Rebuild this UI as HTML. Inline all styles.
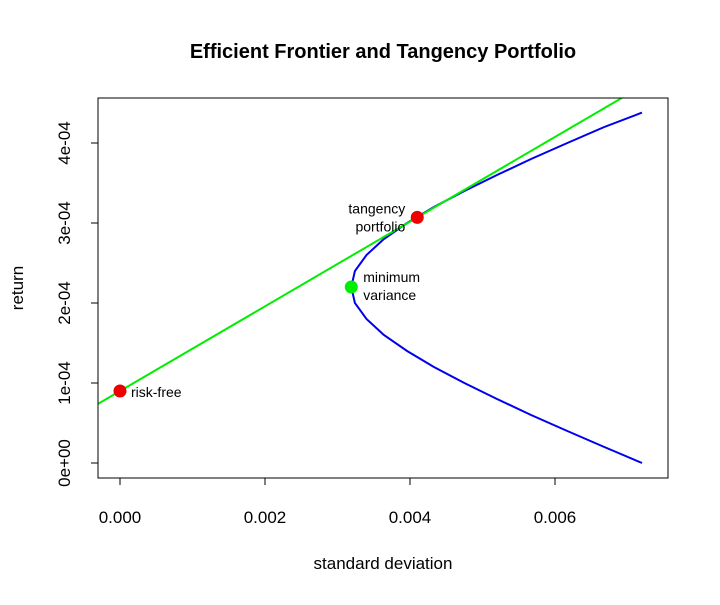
<!DOCTYPE html>
<html><head><meta charset="utf-8"><style>
body{margin:0;background:#fff}
svg text{font-family:"Liberation Sans",Arial,sans-serif}
</style></head><body>
<svg id="chart" width="720" height="600" xmlns="http://www.w3.org/2000/svg">
<rect width="720" height="600" fill="#fff"/>
<text x="383" y="58" font-size="20" font-weight="bold" text-anchor="middle">Efficient Frontier and Tangency Portfolio</text>
<text x="383" y="569" font-size="17" text-anchor="middle">standard deviation</text>
<text x="0" y="0" font-size="17" text-anchor="middle" transform="translate(23,288) rotate(-90)">return</text>
<defs><clipPath id="plotclip"><rect x="98" y="98" width="570" height="380"/></clipPath></defs>
<g id="axes"></g>
<g id="marks" clip-path="url(#plotclip)"></g>
<g id="points"></g>
<rect x="98" y="98" width="570" height="380" fill="none" stroke="#000" stroke-width="1"/>
</svg>
<script>
const xTicks=[0,0.002,0.004,0.006];
const xTickLabels=["0.000","0.002","0.004","0.006"];
const yTicks=[0,1e-4,2e-4,3e-4,4e-4];
const yTickLabels=["0e+00","1e-04","2e-04","3e-04","4e-04"];
const frontierSd=[0.0072,0.00668,0.00617,0.00567,0.0052,0.00475,0.00433,0.00396,0.00364,0.0034,0.00324,0.00319,0.00324,0.0034,0.00364,0.00396,0.00433,0.00475,0.0052,0.00567,0.00617,0.00668,0.0072];
const frontierRet=[0,0.2e-4,0.4e-4,0.6e-4,0.8e-4,1.0e-4,1.2e-4,1.4e-4,1.6e-4,1.8e-4,2.0e-4,2.2e-4,2.4e-4,2.6e-4,2.8e-4,3.0e-4,3.2e-4,3.4e-4,3.6e-4,3.8e-4,4.0e-4,4.2e-4,4.38e-4];
const riskFree=[0,0.9e-4];
const tangency=[0.0041,3.07e-4];
const minVar=[0.00319,2.2e-4];
const sx=v=>120+v*72500;
const sy=v=>463-v*800000;
const NS="http://www.w3.org/2000/svg";
function mk(tag,attrs,parent){const e=document.createElementNS(NS,tag);for(const k in attrs)e.setAttribute(k,attrs[k]);parent.appendChild(e);return e;}
const axes=document.getElementById('axes');
mk('line',{x1:sx(0),x2:sx(0.006),y1:478,y2:478,stroke:'#000'},axes);
xTicks.forEach((t,i)=>{
 const l=mk('line',{x1:sx(t),x2:sx(t),y1:478,y2:485,stroke:'#000'},axes);
 
 
 const tx=mk('text',{x:sx(t),y:523,'font-size':17,'text-anchor':'middle'},axes);tx.textContent=xTickLabels[i];
 
 
});
mk('line',{x1:98,x2:98,y1:sy(0),y2:sy(4e-4),stroke:'#000'},axes);
yTicks.forEach((t,i)=>{
 const l=mk('line',{x1:91,x2:98,y1:sy(t),y2:sy(t),stroke:'#000'},axes);
 
 
 const tx=mk('text',{x:0,y:0,'font-size':17,'text-anchor':'middle',transform:`translate(70,${sy(t)}) rotate(-90)`},axes);tx.textContent=yTickLabels[i];
 
 
});
const marks=document.getElementById('marks');
const pts=frontierSd.map((s,i)=>sx(s)+','+sy(frontierRet[i])).join(' ');
const fl=mk('polyline',{points:pts,fill:'none',stroke:'#0000ee','stroke-width':2},marks);


const slope=(tangency[1]-riskFree[1])/(tangency[0]-riskFree[0]);
const xa=-0.001,xb=0.009;
const tl=mk('line',{x1:sx(xa),y1:sy(riskFree[1]+slope*xa),x2:sx(xb),y2:sy(riskFree[1]+slope*xb),stroke:'#00ee00','stroke-width':2},marks);


const pg=document.getElementById('points');
function pt(p,color,name,labels,anchor,dx,dy){
 const c=mk('circle',{cx:sx(p[0]),cy:sy(p[1]),r:6.5,fill:color},pg);
 
 
 labels.forEach((t,i)=>{const tx=mk('text',{x:sx(p[0])+dx,y:sy(p[1])+dy+i*18,'font-size':14,'text-anchor':anchor},pg);tx.textContent=t;
  
  });
}
pt(riskFree,'#ee0000','risk-free-point',['risk-free'],'start',11,6);
pt(tangency,'#ee0000','tangency-point',['tangency','portfolio'],'end',-12,-4);
pt(minVar,'#00ee00','min-variance-point',['minimum','variance'],'start',12,-5);
</script>
</body></html>
